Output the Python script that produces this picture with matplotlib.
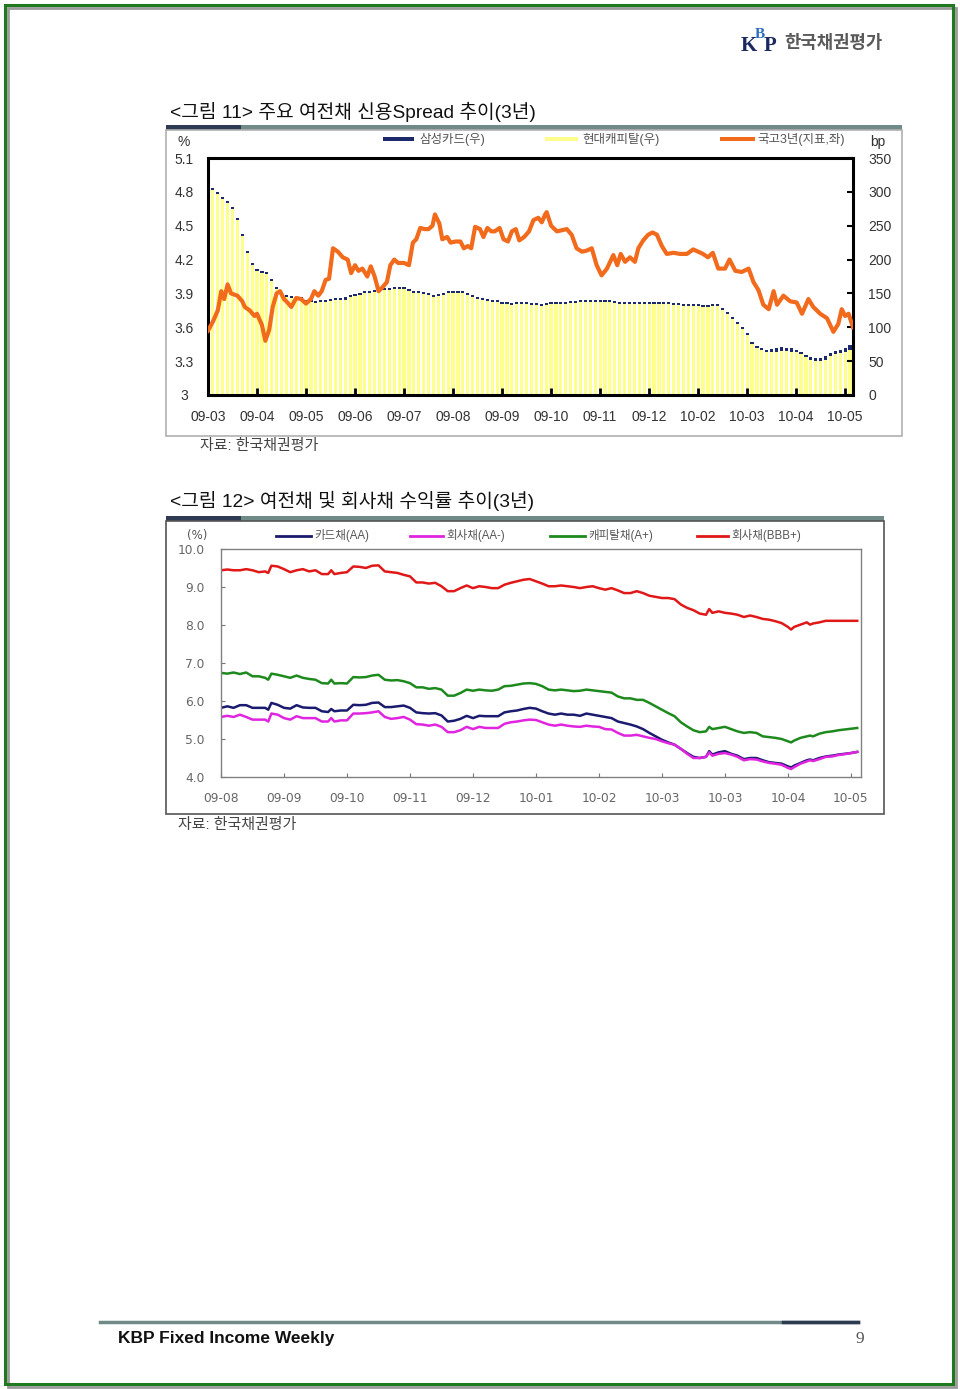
import numpy as np
import matplotlib
matplotlib.use('Agg')
import matplotlib.pyplot as plt
from matplotlib.patches import Rectangle

plt.rcParams['font.family'] = ['Liberation Sans', 'Noto Sans CJK KR', 'DejaVu Sans']

# ---- 그림 11: 여전채 신용 spread (bp, 우축) / 국고3년 (%, 좌축)
top_labels = ['09-03', '09-04', '09-05', '09-06', '09-07', '09-08', '09-09',
              '09-10', '09-11', '09-12', '10-02', '10-03', '10-04', '10-05']

hyundai = [306, 303, 297, 289, 283, 275, 258, 235, 210, 192,
           183, 180, 178, 168, 156, 148, 145, 143, 142, 141,
           138, 137, 136, 137, 138, 139, 140, 140, 141, 144,
           146, 148, 150, 151, 152, 154, 155, 155, 156, 156,
           157, 154, 151, 150, 149, 147, 145, 146, 148, 150,
           151, 151, 150, 148, 145, 142, 140, 139, 138, 137,
           135, 134, 133, 134, 135, 134, 133, 133, 132, 133,
           135, 134, 134, 135, 136, 136, 137, 137, 137, 137,
           138, 138, 137, 136, 135, 135, 135, 135, 135, 134,
           134, 134, 134, 134, 134, 133, 133, 132, 132, 131,
           131, 130, 130, 131, 131, 126, 119, 112, 105, 97,
           88, 76, 69, 66, 64, 64, 64, 65, 65, 64,
           63, 60, 56, 52, 50, 50, 52, 57, 60, 62,
           64, 67, 70]

samsung = [309, 306, 300, 292, 286, 278, 261, 238, 213, 195,
           186, 183, 181, 171, 159, 151, 148, 146, 145, 144,
           141, 140, 139, 140, 141, 142, 143, 143, 144, 147,
           149, 151, 153, 154, 155, 157, 158, 158, 159, 159,
           160, 157, 154, 153, 152, 150, 148, 149, 151, 153,
           154, 154, 153, 151, 148, 145, 143, 142, 141, 140,
           138, 137, 136, 137, 138, 137, 136, 136, 135, 136,
           138, 137, 137, 138, 139, 139, 140, 140, 140, 140,
           141, 141, 140, 139, 138, 138, 138, 138, 138, 137,
           137, 137, 137, 137, 137, 136, 136, 135, 135, 134,
           134, 133, 133, 134, 134, 129, 122, 115, 108, 100,
           91, 79, 72, 69, 67, 68, 70, 71, 70, 69,
           66, 63, 59, 56, 55, 54, 57, 62, 65, 66,
           69, 74, 85]

treasury_x = [0.0, 0.1, 0.2, 0.27, 0.33, 0.4, 0.47, 0.6, 0.7, 0.75,
              0.85, 0.95, 1.0, 1.1, 1.17, 1.25, 1.32, 1.4, 1.47, 1.55,
              1.62, 1.7, 1.8, 1.9, 2.0, 2.1, 2.17, 2.25, 2.32, 2.4,
              2.47, 2.55, 2.65, 2.75, 2.85, 2.92, 3.0, 3.07, 3.15, 3.25,
              3.32, 3.4, 3.48, 3.55, 3.65, 3.72, 3.8, 3.88, 4.0, 4.1,
              4.18, 4.25, 4.33, 4.42, 4.5, 4.58, 4.63, 4.72, 4.78, 4.88,
              4.95, 5.05, 5.15, 5.22, 5.3, 5.37, 5.45, 5.55, 5.62, 5.7,
              5.78, 5.85, 5.95, 6.03, 6.12, 6.2, 6.28, 6.35, 6.45, 6.55,
              6.64, 6.74, 6.81, 6.88, 6.91, 7.0, 7.12, 7.22, 7.32, 7.42,
              7.52, 7.63, 7.73, 7.83, 7.93, 8.03, 8.14, 8.27, 8.35, 8.42,
              8.51, 8.61, 8.71, 8.78, 8.88, 8.98, 9.07, 9.16, 9.26, 9.36,
              9.5, 9.63, 9.77, 9.9, 10.0, 10.1, 10.2, 10.3, 10.41, 10.55,
              10.64, 10.76, 10.89, 11.03, 11.13, 11.23, 11.33, 11.44, 11.54, 11.61,
              11.74, 11.88, 12.01, 12.12, 12.25, 12.35, 12.49, 12.63, 12.76, 12.86,
              12.93, 13.0, 13.07, 13.16]
treasury = [3.57, 3.65, 3.75, 3.92, 3.85, 3.98, 3.90, 3.88, 3.83, 3.78,
            3.75, 3.70, 3.72, 3.62, 3.48, 3.58, 3.78, 3.90, 3.92, 3.85,
            3.82, 3.78, 3.86, 3.85, 3.81, 3.85, 3.92, 3.88, 3.92, 4.02,
            4.03, 4.30, 4.27, 4.22, 4.20, 4.08, 4.15, 4.10, 4.12, 4.05,
            4.14, 4.05, 3.92, 3.95, 4.00, 4.15, 4.20, 4.17, 4.17, 4.15,
            4.35, 4.38, 4.48, 4.47, 4.47, 4.50, 4.60, 4.52, 4.38, 4.40,
            4.35, 4.36, 4.36, 4.30, 4.32, 4.30, 4.49, 4.47, 4.40, 4.48,
            4.45, 4.45, 4.48, 4.38, 4.36, 4.45, 4.47, 4.37, 4.40, 4.45,
            4.55, 4.57, 4.53, 4.60, 4.62, 4.50, 4.45, 4.46, 4.47, 4.42,
            4.30, 4.27, 4.28, 4.30, 4.15, 4.06, 4.12, 4.24, 4.15, 4.25,
            4.18, 4.22, 4.18, 4.30, 4.37, 4.42, 4.44, 4.42, 4.32, 4.25,
            4.26, 4.25, 4.25, 4.29, 4.27, 4.25, 4.22, 4.26, 4.12, 4.12,
            4.20, 4.10, 4.09, 4.12, 4.00, 3.93, 3.80, 3.76, 3.92, 3.80,
            3.88, 3.83, 3.82, 3.72, 3.85, 3.78, 3.72, 3.68, 3.56, 3.63,
            3.76, 3.70, 3.72, 3.60]

# ---- 그림 12: 여전채 및 회사채 수익률 (%)
bottom_labels = ['09-08', '09-09', '09-10', '09-11', '09-12', '10-01',
                 '10-02', '10-03', '10-03', '10-04', '10-05']

yield_x = [0.0, 0.1, 0.2, 0.3, 0.4, 0.5, 0.6, 0.7, 0.75,
           0.8, 0.9, 1.0, 1.1, 1.2, 1.3, 1.4, 1.5, 1.6, 1.7, 1.75,
           1.8, 1.9, 2.0, 2.1, 2.2, 2.3, 2.4, 2.5, 2.6, 2.7,
           2.8, 2.9, 3.0, 3.1, 3.2, 3.3, 3.4, 3.5, 3.6, 3.7,
           3.8, 3.9, 4.0, 4.1, 4.2, 4.3, 4.4, 4.5, 4.6, 4.7,
           4.8, 4.9, 5.0, 5.1, 5.2, 5.3, 5.4, 5.5, 5.6, 5.7,
           5.8, 5.9, 6.0, 6.1, 6.2, 6.3, 6.4, 6.5, 6.6, 6.7,
           6.8, 6.9, 7.0, 7.1, 7.2, 7.3, 7.4, 7.5, 7.6, 7.7, 7.75,
           7.8, 7.9, 8.0, 8.1, 8.2, 8.3, 8.4, 8.5, 8.6, 8.7, 8.8, 8.9, 9.0, 9.05,
           9.1, 9.2, 9.3, 9.35,
           9.4, 9.5, 9.6, 9.7, 9.8, 9.9, 10.0, 10.1]

card_aa = [5.82, 5.86, 5.82, 5.89, 5.89, 5.82, 5.82, 5.82, 5.77,
           5.95, 5.90, 5.82, 5.80, 5.89, 5.83, 5.82, 5.82, 5.73, 5.71, 5.79,
           5.73, 5.75, 5.75, 5.90, 5.89, 5.90, 5.95, 5.96, 5.84, 5.84,
           5.86, 5.88, 5.82, 5.70, 5.68, 5.67, 5.68, 5.62, 5.46, 5.48,
           5.53, 5.61, 5.55, 5.61, 5.60, 5.60, 5.60, 5.70, 5.73, 5.75,
           5.79, 5.82, 5.80, 5.73, 5.67, 5.64, 5.67, 5.64, 5.64, 5.61,
           5.67, 5.64, 5.61, 5.58, 5.55, 5.46, 5.42, 5.38, 5.33, 5.26,
           5.16, 5.07, 4.98, 4.91, 4.85, 4.74, 4.63, 4.53, 4.50, 4.53, 4.68,
           4.59, 4.65, 4.68, 4.61, 4.56, 4.47, 4.50, 4.50, 4.44, 4.39, 4.37, 4.35, 4.28, 4.25,
           4.30, 4.37, 4.44, 4.46,
           4.44, 4.50, 4.54, 4.56, 4.59, 4.61, 4.63, 4.66]

corp_aa = [5.58, 5.61, 5.58, 5.64, 5.58, 5.51, 5.51, 5.51, 5.46,
           5.67, 5.64, 5.55, 5.51, 5.60, 5.55, 5.55, 5.55, 5.46, 5.46, 5.55,
           5.46, 5.49, 5.49, 5.67, 5.67, 5.68, 5.70, 5.73, 5.58, 5.53,
           5.55, 5.58, 5.51, 5.39, 5.38, 5.35, 5.38, 5.32, 5.18, 5.18,
           5.23, 5.32, 5.26, 5.32, 5.29, 5.29, 5.29, 5.40, 5.44, 5.46,
           5.49, 5.51, 5.50, 5.44, 5.38, 5.35, 5.38, 5.35, 5.33, 5.32,
           5.35, 5.33, 5.32, 5.26, 5.25, 5.16, 5.09, 5.09, 5.11, 5.07,
           5.03, 5.00, 4.94, 4.89, 4.85, 4.74, 4.61, 4.50, 4.50, 4.53, 4.65,
           4.56, 4.61, 4.63, 4.59, 4.53, 4.44, 4.47, 4.46, 4.41, 4.37, 4.35, 4.32, 4.24, 4.21,
           4.26, 4.35, 4.41, 4.44,
           4.42, 4.47, 4.53, 4.54, 4.58, 4.60, 4.63, 4.66]

capital_a = [6.74, 6.72, 6.75, 6.71, 6.75, 6.65, 6.65, 6.61, 6.56,
             6.72, 6.69, 6.65, 6.61, 6.67, 6.61, 6.58, 6.56, 6.47, 6.46, 6.56,
             6.46, 6.47, 6.46, 6.63, 6.62, 6.63, 6.67, 6.69, 6.56, 6.54,
             6.55, 6.52, 6.47, 6.36, 6.36, 6.32, 6.34, 6.30, 6.14, 6.14,
             6.21, 6.30, 6.27, 6.30, 6.28, 6.27, 6.30, 6.39, 6.40, 6.43,
             6.46, 6.47, 6.45, 6.39, 6.30, 6.28, 6.30, 6.28, 6.26, 6.27,
             6.30, 6.28, 6.26, 6.24, 6.22, 6.12, 6.07, 6.07, 6.03, 6.03,
             5.95, 5.86, 5.77, 5.68, 5.60, 5.44, 5.33, 5.23, 5.18, 5.20, 5.32,
             5.26, 5.29, 5.32, 5.26, 5.20, 5.16, 5.18, 5.16, 5.07, 5.05, 5.03, 5.00, 4.94, 4.91,
             4.96, 5.03, 5.07, 5.09,
             5.07, 5.14, 5.18, 5.20, 5.23, 5.25, 5.27, 5.29]

corp_bbb = [9.44, 9.46, 9.44, 9.44, 9.47, 9.44, 9.39, 9.41, 9.37,
            9.56, 9.54, 9.47, 9.39, 9.44, 9.47, 9.41, 9.44, 9.34, 9.34, 9.44,
            9.34, 9.37, 9.39, 9.54, 9.53, 9.50, 9.56, 9.57, 9.41, 9.39,
            9.37, 9.32, 9.28, 9.12, 9.12, 9.09, 9.11, 9.02, 8.89, 8.89,
            8.97, 9.04, 8.97, 9.02, 9.00, 8.97, 8.97, 9.06, 9.11, 9.15,
            9.19, 9.21, 9.15, 9.09, 9.02, 9.02, 9.04, 9.02, 9.00, 8.97,
            9.00, 9.02, 8.97, 8.93, 8.97, 8.91, 8.84, 8.84, 8.89, 8.84,
            8.77, 8.74, 8.71, 8.71, 8.68, 8.54, 8.45, 8.39, 8.30, 8.27, 8.42,
            8.32, 8.36, 8.32, 8.30, 8.27, 8.21, 8.25, 8.21, 8.16, 8.14, 8.10, 8.05, 7.95, 7.88,
            7.95, 8.01, 8.07, 8.01,
            8.04, 8.07, 8.11, 8.11, 8.11, 8.11, 8.11, 8.11]

W, H = 960, 1389
NAVY = '#1c2a6b'
YELLOW = '#ffff8c'
ORANGE = '#f26a1b'
BARDARK = '#2d3a52'
BARTEAL = '#6f8a87'


def rect(x0, y0, x1, y1):
    # 픽셀 좌표 -> figure 비율
    return [x0 / W, 1 - y1 / H, (x1 - x0) / W, (y1 - y0) / H]


fig = plt.figure(figsize=(W / 100, H / 100), dpi=100)

# 페이지 배경용 축 (픽셀 단위)
bg = fig.add_axes([0, 0, 1, 1], zorder=-5)
bg.set_xlim(0, W)
bg.set_ylim(H, 0)
bg.axis('off')

# 페이지 테두리
bg.add_patch(Rectangle((8, 8), 948, 1379, fill=False, ec='#9a9a9a', lw=2))
bg.add_patch(Rectangle((5, 5), 948, 1379, fill=False, ec='#1f7a1f', lw=2.2))

# 로고
bg.text(741, 51, 'K', fontsize=15, fontweight='bold', family='Liberation Serif', color='#1b2a5e')
bg.text(755, 38, 'B', fontsize=11, fontweight='bold', family='Liberation Serif', color='#2f6fc0')
bg.text(764, 51, 'P', fontsize=15, fontweight='bold', family='Liberation Serif', color='#1b2a5e')
bg.text(784, 43, '한국채권평가', fontsize=12.8, fontweight='bold', color='#5a5a5a', va='center')

# ---------- 그림 11 ----------
bg.text(170, 112, '<그림 11> 주요 여전채 신용Spread 추이(3년)', fontsize=13.8, va='center', color='#111111')
bg.add_patch(Rectangle((166, 125), 736, 5, color=BARTEAL, lw=0))
bg.add_patch(Rectangle((166, 125), 75, 5, color=BARDARK, lw=0))
bg.add_patch(Rectangle((166, 130), 736, 306, fill=False, ec='#b0b0b0', lw=1.2))

leg_font = dict(fontsize=9, va='center', color='#555555')
bg.add_patch(Rectangle((383, 137), 31, 4, color=NAVY, lw=0))
bg.text(419, 139, '삼성카드(우)', **leg_font)
bg.add_patch(Rectangle((545, 137), 33, 4, color=YELLOW, lw=0))
bg.text(582, 139, '현대캐피탈(우)', **leg_font)
bg.add_patch(Rectangle((720, 137), 35, 4, color=ORANGE, lw=0))
bg.text(757, 139, '국고3년(지표,좌)', **leg_font)
bg.text(184, 142, '%', fontsize=10, ha='center', va='center', color='#333333')
bg.text(878, 142, 'bp', fontsize=10, ha='center', va='center', color='#333333')
bg.text(200, 446, '자료: 한국채권평가', fontsize=10.8, va='center', color='#444444')

ax = fig.add_axes(rect(208, 158, 853, 395))
ax2 = ax.twinx()

spread_x = np.arange(len(hyundai)) * 0.1
ax.bar(spread_x, samsung, width=0.065, color=NAVY, lw=0)
ax.bar(spread_x, hyundai, width=0.065, color=YELLOW, lw=0)
ax.set_xlim(0, 13.16)
ax.set_ylim(0, 350)
ax.set_yticks(range(0, 351, 50))
ax.yaxis.tick_right()
ax.tick_params(axis='y', direction='in', length=4, width=1.5, pad=11, labelsize=10, labelcolor='#333333')
ax.set_xticks(range(len(top_labels)))
ax.set_xticklabels(top_labels)
ax.tick_params(axis='x', direction='in', length=5, width=2, pad=11, labelsize=10, labelcolor='#333333')
for s in ax.spines.values():
    s.set_linewidth(2.2)

ax2.plot(treasury_x, treasury, color=ORANGE, lw=3)
ax2.set_ylim(3.0, 5.1)
ax2.set_yticks([3.0, 3.3, 3.6, 3.9, 4.2, 4.5, 4.8, 5.1])
ax2.set_yticklabels(['3', '3.3', '3.6', '3.9', '4.2', '4.5', '4.8', '5.1'])
ax2.yaxis.tick_left()
ax2.tick_params(axis='y', length=0, pad=17, labelsize=10, labelcolor='#333333')
for t in ax2.get_yticklabels():
    t.set_horizontalalignment('center')
for s in ax2.spines.values():
    s.set_visible(False)

# ---------- 그림 12 ----------
bg.text(170, 501, '<그림 12> 여전채 및 회사채 수익률 추이(3년)', fontsize=13.8, va='center', color='#111111')
bg.add_patch(Rectangle((166, 516), 718, 5, color=BARTEAL, lw=0))
bg.add_patch(Rectangle((166, 516), 75, 5, color=BARDARK, lw=0))
bg.add_patch(Rectangle((166, 521), 718, 293, fill=False, ec='#555555', lw=1.2))

series = [('카드채(AA)', card_aa, '#1a1a6e'),
          ('회사채(AA-)', corp_aa, '#e024e0'),
          ('캐피탈채(A+)', capital_a, '#1e8a1e'),
          ('회사채(BBB+)', corp_bbb, '#e01818')]
leg_pos = [(276, 311), (410, 443), (550, 585), (697, 728)]
for (name, _, col), (l0, l1) in zip(series, leg_pos):
    bg.plot([l0, l1], [536, 536], color=col, lw=2)
    bg.text(l1 + 3, 536, name, fontsize=8.3, va='center', color='#555555')
bg.text(197, 535, '(%)', fontsize=8.5, ha='center', va='center', color='#555555',
        family='DejaVu Sans')
bg.text(178, 825, '자료: 한국채권평가', fontsize=10.8, va='center', color='#444444')

bx = fig.add_axes(rect(221, 549, 861, 777))
for name, vals, col in series:
    bx.plot(yield_x, vals, color=col, lw=1.8)
bx.set_xlim(0, 10.16)
bx.set_ylim(4.0, 10.0)
bx.set_yticks(np.arange(4.0, 10.01, 1.0))
bx.set_yticklabels(['4.0', '5.0', '6.0', '7.0', '8.0', '9.0', '10.0'])
bx.set_xticks(range(len(bottom_labels)))
bx.set_xticklabels(bottom_labels)
bx.tick_params(direction='in', length=3, color='#777777', labelsize=8.8, labelcolor='#666666')
bx.tick_params(axis='x', pad=11)
bx.tick_params(axis='y', pad=12)
for t in bx.get_xticklabels() + bx.get_yticklabels():
    t.set_family('DejaVu Sans')
for s in bx.spines.values():
    s.set_color('#808080')
    s.set_linewidth(1)

# ---------- 하단 ----------
bg.plot([100, 858], [1322, 1322], color=BARTEAL, lw=2.5)
bg.plot([783, 858], [1322, 1322], color=BARDARK, lw=2.5)
bg.text(118, 1339, 'KBP Fixed Income Weekly', fontsize=12.5, fontweight='bold', va='center', color='#111111')
bg.text(860, 1339, '9', fontsize=12.5, family='Liberation Serif', ha='center', va='center', color='#555555')

fig.savefig('out.png', dpi=100)
